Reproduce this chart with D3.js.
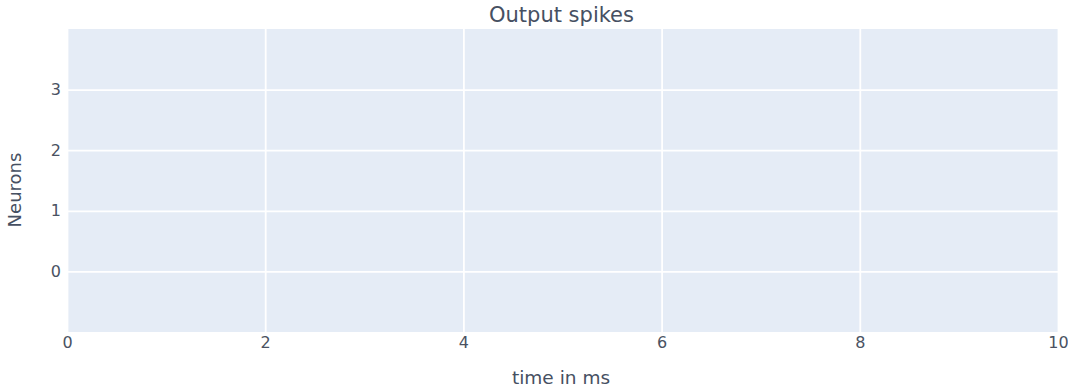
<!DOCTYPE html>
<html><head><meta charset="utf-8">
<script src="https://cdn.jsdelivr.net/npm/d3@7"></script>
<style>body{margin:0;background:#fff}svg{display:block}text{font-family:"DejaVu Sans",Verdana,sans-serif;fill:#465062}</style>
</head><body><svg id="c" width="1068" height="389"></svg>
<script>
const title = "Output spikes";
const xLabel = "time in ms";
const yLabel = "Neurons";
const xDomain = [0, 10];
const yDomain = [-1, 4];
const xTicks = [0, 2, 4, 6, 8, 10];
const yTicks = [0, 1, 2, 3];
const spikeTimes = [];   // no spikes in output
const spikeNeurons = [];

const W = 1068, H = 389;
const m = {l: 67, r: 10, t: 29, b: 57};
const svg = d3.select("#c");
const x = d3.scaleLinear().domain(xDomain).range([m.l, W - m.r]);
const y = d3.scaleLinear().domain(yDomain).range([H - m.b, m.t]);

svg.append("rect").attr("x", m.l).attr("y", m.t)
  .attr("width", W - m.r - m.l).attr("height", H - m.b - m.t).attr("fill", "#e5ecf6");

const gx = svg.append("g").attr("transform", `translate(0,${H - m.b})`)
  .call(d3.axisBottom(x).tickValues(xTicks).tickSize(-(H - m.b - m.t)).tickPadding(5).tickFormat(d3.format("d")));
gx.select(".domain").remove();
gx.selectAll("line").attr("stroke", "#fff").attr("stroke-width", 1.8);
gx.selectAll("text").attr("font-size", 16).style("fill", "#4a5262").attr("font-family", "DejaVu Sans");

const gy = svg.append("g").attr("transform", `translate(${m.l},0)`)
  .call(d3.axisLeft(y).tickValues(yTicks).tickSize(-(W - m.r - m.l)).tickPadding(6).tickFormat(d3.format("d")));
gy.select(".domain").remove();
gy.selectAll("line").attr("stroke", "#fff").attr("stroke-width", 1.8);
gy.selectAll("text").attr("font-size", 16).style("fill", "#4a5262").attr("font-family", "DejaVu Sans");

svg.selectAll("circle.spike").data(spikeTimes.map((t, i) => [t, spikeNeurons[i]]))
  .enter().append("circle").attr("class", "spike")
  .attr("cx", d => x(d[0])).attr("cy", d => y(d[1])).attr("r", 4).attr("fill", "#636efa");

svg.append("text").attr("x", 561.5).attr("y", 22)
  .attr("text-anchor", "middle").attr("font-size", 21).text(title);
svg.append("text").attr("x", 561).attr("y", 384)
  .attr("text-anchor", "middle").attr("font-size", 18.5).text(xLabel);
svg.append("text").attr("transform", `translate(21,${190}) rotate(-90)`)
  .attr("text-anchor", "middle").attr("font-size", 18).text(yLabel);
</script></body></html>
